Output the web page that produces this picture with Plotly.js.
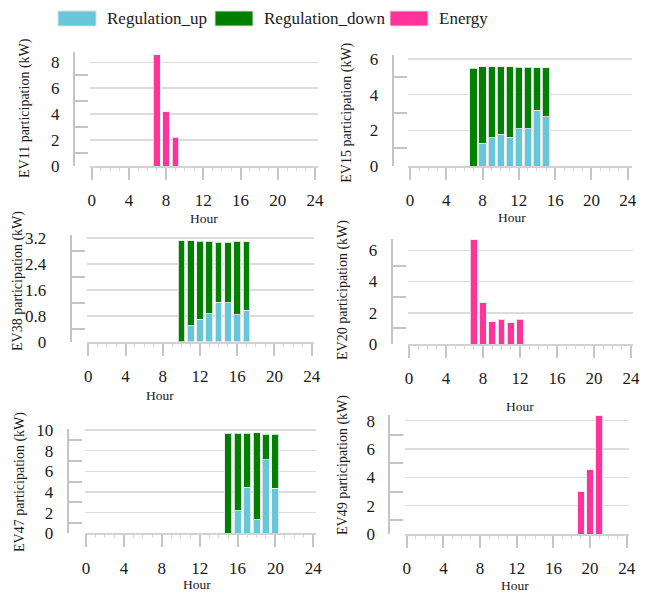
<!DOCTYPE html>
<html>
<head>
<meta charset="utf-8">
<script src="https://cdn.plot.ly/plotly-3.0.1.min.js"></script>
<style>html,body{margin:0;padding:0;background:#fff;}#chart{width:653px;height:593px;}</style>
</head>
<body>
<div id="chart"></div>
<script>
// ---- data ----
const seriesNames = ["Regulation_up", "Regulation_down", "Energy"];
const ev11Hours = [7, 8, 9];
const ev11Energy = [8.57, 4.19, 2.2];
const ev15Hours = [7, 8, 9, 10, 11, 12, 13, 14, 15];
const ev15Up = [0, 1.27, 1.59, 1.78, 1.61, 2.08, 2.08, 3.14, 2.77];
const ev15Down = [5.48, 4.30, 3.98, 3.79, 3.96, 3.45, 3.45, 2.38, 2.75];
const ev38Hours = [10, 11, 12, 13, 14, 15, 16, 17];
const ev38Up = [0, 0.49, 0.70, 0.86, 1.22, 1.20, 0.83, 0.97];
const ev38Down = [3.13, 2.63, 2.40, 2.24, 1.86, 1.87, 2.27, 2.12];
const ev20Hours = [7, 8, 9, 10, 11, 12];
const ev20Energy = [6.68, 2.65, 1.42, 1.57, 1.36, 1.57];
const ev47Hours = [15, 16, 17, 18, 19, 20];
const ev47Up = [0, 2.16, 4.45, 1.29, 7.10, 4.35];
const ev47Down = [9.68, 7.52, 5.23, 8.45, 2.48, 5.23];
const ev49Hours = [19, 20, 21];
const ev49Energy = [2.97, 4.54, 8.35];
const xTickVals = [0, 4, 8, 12, 16, 20, 24];
const yTicks11 = [0, 2, 4, 6, 8];
const yTicks15 = [0, 2, 4, 6];
const yTicks38 = [0, 0.8, 1.6, 2.4, 3.2];
const yTicks20 = [0, 2, 4, 6];
const yTicks47 = [0, 2, 4, 6, 8, 10];
const yTicks49 = [0, 2, 4, 6, 8];
const yTitles = ["EV11 participation (kW)", "EV15 participation (kW)", "EV38 participation (kW)",
                 "EV20 participation (kW)", "EV47 participation (kW)", "EV49 participation (kW)"];

// ---- styling ----
const W = 653, H = 593;
const fx = p => p / W;
const fy = p => 1 - p / H;
const FONT = "Liberation Serif";
const cUp = "#66c6da", cDown = "#008000", cEnergy = "#ff3399";
const barLine = {color: "rgba(235,235,235,0.85)", width: 1};

// panel geometry (pixels)
const geo = [
  {yl: 74,    x0: 90,    x1: 318,   xr: [-0.18, 24.32], z: 166,   t: 51.7, ymax: 8.82, ticks: yTicks11, tx: 25,  ty: 108, hx: 204, hy: 218, bw: 0.72},
  {yl: 392.7, x0: 408,   x1: 631.7, xr: [-0.22, 24.44], z: 166,   t: 55,   ymax: 6.23, ticks: yTicks15, tx: 346.7, ty: 113, hx: 512, hy: 217, bw: 0.8},
  {yl: 70.7,  x0: 87,    x1: 314,   xr: [-0.14, 24.25], z: 341.7, t: 235,  ymax: 3.30, ticks: yTicks38, tx: 18,  ty: 281, hx: 160, hy: 395, bw: 0.72},
  {yl: 391.7, x0: 407.5, x1: 633,   xr: [-0.16, 24.22], z: 344,   t: 239,  ymax: 6.72, ticks: yTicks20, tx: 343, ty: 290, hx: 520, hy: 406, bw: 0.72},
  {yl: 67.7,  x0: 84.5,  x1: 316,   xr: [-0.16, 24.28], z: 533.3, t: 429,  ymax: 10.1, ticks: yTicks47, tx: 20,  ty: 482, hx: 197, hy: 584, bw: 0.74},
  {yl: 389.3, x0: 405,   x1: 629,   xr: [-0.19, 24.25], z: 534,   t: 415,  ymax: 8.40, ticks: yTicks49, tx: 343, ty: 465, hx: 515, hy: 585, bw: 0.72}
];

const traces = [];
function bar(i, x, y, color, name) {
  const s = i === 0 ? "" : String(i + 1);
  traces.push({type: "bar", x: x, y: y, name: name, width: geo[i].bw,
    marker: {color: color, line: barLine}, xaxis: "x" + s, yaxis: "y" + s,
    showlegend: false, hoverinfo: "x+y+name"});
}
bar(0, ev11Hours, ev11Energy, cEnergy, seriesNames[2]);
bar(1, ev15Hours, ev15Up, cUp, seriesNames[0]);
bar(1, ev15Hours, ev15Down, cDown, seriesNames[1]);
bar(2, ev38Hours, ev38Up, cUp, seriesNames[0]);
bar(2, ev38Hours, ev38Down, cDown, seriesNames[1]);
bar(3, ev20Hours, ev20Energy, cEnergy, seriesNames[2]);
bar(4, ev47Hours, ev47Up, cUp, seriesNames[0]);
bar(4, ev47Hours, ev47Down, cDown, seriesNames[1]);
bar(5, ev49Hours, ev49Energy, cEnergy, seriesNames[2]);

const layout = {
  width: W, height: H,
  margin: {l: 0, r: 0, t: 0, b: 0},
  paper_bgcolor: "#fff", plot_bgcolor: "#fff",
  barmode: "stack", showlegend: false,
  font: {family: FONT, color: "#1a1a1a"},
  shapes: [], annotations: []
};

geo.forEach((g, i) => {
  const s = i === 0 ? "" : String(i + 1);
  const step = g.ticks[1] - g.ticks[0];
  const minorVals = g.ticks.slice(0, -1).map(v => +(v + step / 2).toFixed(3));
  layout["xaxis" + s] = {
    domain: [fx(g.x0), fx(g.x1)], anchor: "y" + s, range: g.xr,
    showline: true, linecolor: "#d2d2d2", linewidth: 2,
    tickmode: "array", tickvals: xTickVals, ticktext: xTickVals.map(String),
    ticks: "outside", ticklen: 12, tickwidth: 2, tickcolor: "#c6c6c6",
    minor: {tickmode: "linear", tick0: 0, dtick: 1, ticks: "outside", ticklen: 3, tickwidth: 1, tickcolor: "#d6d6d6", showgrid: false},
    showgrid: false, zeroline: false,
    tickfont: {family: FONT, size: 17, color: "#1a1a1a"},
    ticklabelstandoff: 6, fixedrange: true
  };
  layout["yaxis" + s] = {
    domain: [fy(g.z), fy(g.t)], anchor: "free", position: fx(g.yl), range: [0, g.ymax],
    showline: true, linecolor: "#c4c4c4", linewidth: 2,
    tickmode: "array", tickvals: g.ticks, ticktext: g.ticks.map(String),
    ticks: "", showgrid: true, gridcolor: "#dcdcdc", gridwidth: 1.5, zeroline: false,
    minor: {tickmode: "array", tickvals: minorVals, ticks: "inside", ticklen: 13, tickwidth: 2, tickcolor: "#c4c4c4", showgrid: false},
    tickfont: {family: FONT, size: 17, color: "#1a1a1a"},
    ticklabelstandoff: i === 2 ? 20 : 10, fixedrange: true
  };
  layout.annotations.push({
    text: yTitles[i], textangle: -90, xref: "paper", yref: "paper",
    x: fx(g.tx), y: fy(g.ty), xanchor: "center", yanchor: "middle", showarrow: false,
    font: {family: FONT, size: 14, color: "#1a1a1a"}
  });
  layout.annotations.push({
    text: "Hour", xref: "paper", yref: "paper",
    x: fx(g.hx), y: fy(g.hy), xanchor: "center", yanchor: "middle", showarrow: false,
    font: {family: FONT, size: 13.5, color: "#1a1a1a"}
  });
});

// legend (swatches + labels)
const legendItems = [
  {name: seriesNames[0], color: cUp, sx: 58, tx: 105},
  {name: seriesNames[1], color: cDown, sx: 215, tx: 262},
  {name: seriesNames[2], color: cEnergy, sx: 390, tx: 437}
];
legendItems.forEach(it => {
  layout.shapes.push({type: "rect", xref: "paper", yref: "paper",
    x0: fx(it.sx), x1: fx(it.sx + 38), y0: fy(26), y1: fy(11),
    fillcolor: it.color, line: {color: "#dddddd", width: 1}});
  layout.annotations.push({text: it.name, xref: "paper", yref: "paper",
    x: fx(it.tx), y: fy(18.5), xanchor: "left", yanchor: "middle", showarrow: false,
    font: {family: FONT, size: 17, color: "#1a1a1a"}});
});

Plotly.newPlot("chart", traces, layout, {staticPlot: true, displayModeBar: false});
</script>
</body>
</html>
